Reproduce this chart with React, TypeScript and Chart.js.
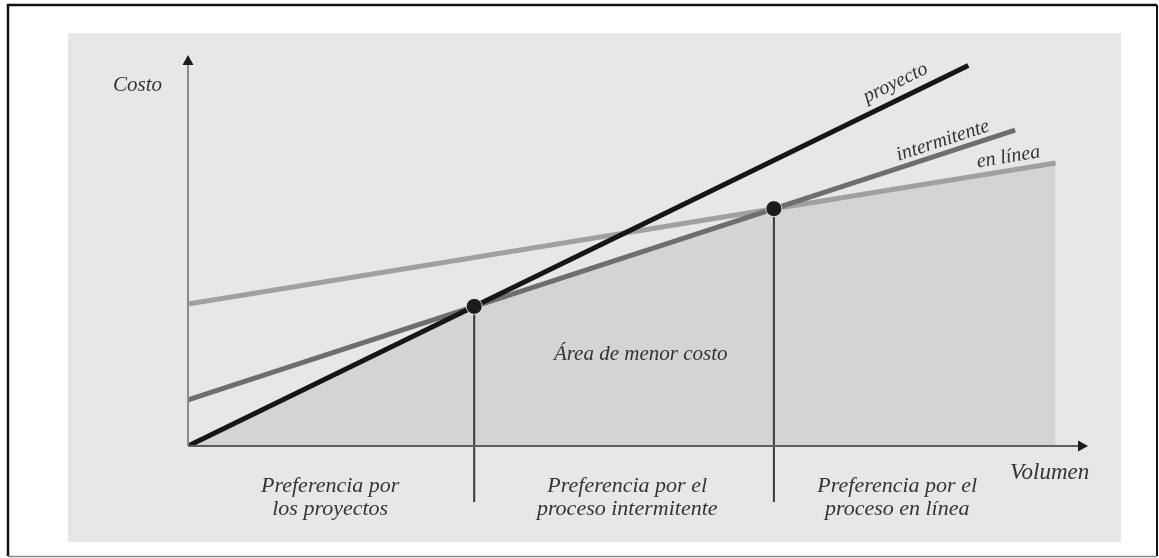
import { useEffect, useRef } from "react";
import { Chart, registerables } from "chart.js";

Chart.register(...registerables);

// Cost lines: [volume, cost] at each end
const proyectoVolumen = [0, 86.7];
const proyectoCosto = [0, 97.3];
const intermitenteVolumen = [0, 91.9];
const intermitenteCosto = [11.8, 80.8];
const enLineaVolumen = [0, 96.4];
const enLineaCosto = [36.3, 72.4];

// Break-even points where the cheapest process changes
const crucesVolumen = [31.8, 65.1];
const crucesCosto = [35.7, 60.7];

// Lower envelope = lowest cost area
const menorCostoVolumen = [0, 31.8, 65.1, 96.4];
const menorCostoCosto = [0, 35.7, 60.7, 72.4];

// Drop lines run below the volume axis into the label band
const caidaCosto = -14.3;

const etiquetasLineas = ["proyecto", "intermitente", "en línea"];
const etiquetasLineasVolumen = [79.4, 84.3, 91.4];
const etiquetasLineasSeparacion = [11, 7, 8];

const regiones = [
  ["Preferencia por", "los proyectos"],
  ["Preferencia por el", "proceso intermitente"],
  ["Preferencia por el", "proceso en línea"],
];
const regionesVolumen = [15.8, 48.8, 78.8];

const ejeX = "Volumen";
const ejeY = "Costo";
const areaTexto = "Área de menor costo";
const areaVolumen = 50.3;
const areaCosto = 22;

const W = 1159;
const H = 558;
const FONT = '"Liberation Serif", "DejaVu Serif", serif';
const TEXT = "#343434";

const pts = (xs: number[], ys: number[]) => xs.map((x, i) => ({ x, y: ys[i] }));

const decor = {
  id: "decor",
  beforeDraw(chart: any) {
    const ctx = chart.ctx as CanvasRenderingContext2D;
    ctx.save();
    ctx.fillStyle = "#ffffff";
    ctx.fillRect(0, 0, W, H);
    // panel
    ctx.fillStyle = "#e6e7e9";
    ctx.fillRect(68, 33, 1053, 509);
    // frame
    ctx.strokeStyle = "#111";
    ctx.lineWidth = 2.5;
    ctx.beginPath();
    ctx.moveTo(8, 556);
    ctx.lineTo(8, 5);
    ctx.lineTo(1157, 5);
    ctx.stroke();
    ctx.lineWidth = 2;
    ctx.beginPath();
    ctx.moveTo(1157, 5);
    ctx.lineTo(1157, 556);
    ctx.stroke();
    ctx.strokeStyle = "#8a8a8a";
    ctx.lineWidth = 1.5;
    ctx.beginPath();
    ctx.moveTo(8, 556.5);
    ctx.lineTo(1157, 556.5);
    ctx.stroke();
    ctx.restore();
  },
  afterDatasetsDraw(chart: any) {
    const ctx = chart.ctx as CanvasRenderingContext2D;
    const xs = chart.scales.x;
    const ys = chart.scales.y;
    const x0 = xs.getPixelForValue(0);
    const y0 = ys.getPixelForValue(0);
    const xEnd = xs.getPixelForValue(100);
    const yEnd = ys.getPixelForValue(100);
    ctx.save();

    // y axis
    ctx.strokeStyle = "#8c8c8c";
    ctx.lineWidth = 2;
    ctx.beginPath();
    ctx.moveTo(x0, y0);
    ctx.lineTo(x0, yEnd + 8);
    ctx.stroke();
    ctx.fillStyle = "#1a1a1a";
    ctx.beginPath();
    ctx.moveTo(x0, yEnd);
    ctx.lineTo(x0 - 5.5, yEnd + 10);
    ctx.lineTo(x0 + 5.5, yEnd + 10);
    ctx.closePath();
    ctx.fill();

    // x axis
    ctx.strokeStyle = "#5e5e5e";
    ctx.lineWidth = 2;
    ctx.beginPath();
    ctx.moveTo(x0, y0);
    ctx.lineTo(xEnd - 8, y0);
    ctx.stroke();
    ctx.beginPath();
    ctx.moveTo(xEnd, y0);
    ctx.lineTo(xEnd - 10, y0 - 5.5);
    ctx.lineTo(xEnd - 10, y0 + 5.5);
    ctx.closePath();
    ctx.fill();

    ctx.fillStyle = TEXT;
    ctx.textBaseline = "alphabetic";

    // axis titles
    ctx.font = `italic 21px ${FONT}`;
    ctx.textAlign = "left";
    ctx.fillText(ejeY, x0 - 75, yEnd + 36);
    ctx.font = `italic 23px ${FONT}`;
    ctx.fillText(ejeX, xEnd - 78, y0 + 33);

    // area label
    ctx.font = `italic 21px ${FONT}`;
    ctx.textAlign = "center";
    ctx.fillText(areaTexto, xs.getPixelForValue(areaVolumen), ys.getPixelForValue(areaCosto));

    // region labels
    ctx.font = `italic 22px ${FONT}`;
    regiones.forEach((lines, i) => {
      const cx = xs.getPixelForValue(regionesVolumen[i]);
      ctx.fillText(lines[0], cx, y0 + 46);
      ctx.fillText(lines[1], cx, y0 + 69);
    });

    // line labels, rotated along each line
    const lineas = [
      [proyectoVolumen, proyectoCosto],
      [intermitenteVolumen, intermitenteCosto],
      [enLineaVolumen, enLineaCosto],
    ];
    ctx.font = `italic 20px ${FONT}`;
    lineas.forEach(([vx, vy], i) => {
      const ax = xs.getPixelForValue(vx[0]);
      const ay = ys.getPixelForValue(vy[0]);
      const bx = xs.getPixelForValue(vx[1]);
      const by = ys.getPixelForValue(vy[1]);
      const ang = Math.atan2(by - ay, bx - ax);
      const v = etiquetasLineasVolumen[i];
      const t = (v - vx[0]) / (vx[1] - vx[0]);
      const cy = vy[0] + t * (vy[1] - vy[0]);
      const px = xs.getPixelForValue(v);
      const py = ys.getPixelForValue(cy);
      ctx.save();
      ctx.translate(px, py);
      ctx.rotate(ang);
      ctx.textAlign = "center";
      ctx.fillText(etiquetasLineas[i], 0, -etiquetasLineasSeparacion[i]);
      ctx.restore();
    });

    ctx.restore();
  },
};

export default function App() {
  const ref = useRef<HTMLCanvasElement | null>(null);

  useEffect(() => {
    if (!ref.current) return;
    const chart = new Chart(ref.current, {
      type: "line",
      data: {
        datasets: [
          {
            data: pts(crucesVolumen, crucesCosto),
            showLine: false,
            pointRadius: 8,
            pointBackgroundColor: "#1c1c1c",
            pointBorderColor: "rgba(250,250,250,0.8)",
            pointBorderWidth: 1,
            order: 1,
          },
          {
            data: [
              { x: crucesVolumen[0], y: crucesCosto[0] },
              { x: crucesVolumen[0], y: caidaCosto },
            ],
            borderColor: "#3a3a3a",
            borderWidth: 2,
            pointRadius: 0,
            clip: false,
            order: 2,
          },
          {
            data: [
              { x: crucesVolumen[1], y: crucesCosto[1] },
              { x: crucesVolumen[1], y: caidaCosto },
            ],
            borderColor: "#3a3a3a",
            borderWidth: 2,
            pointRadius: 0,
            clip: false,
            order: 2,
          },
          {
            data: pts(proyectoVolumen, proyectoCosto),
            borderColor: "#161616",
            borderWidth: 5,
            borderCapStyle: "butt",
            pointRadius: 0,
            order: 3,
          },
          {
            data: pts(intermitenteVolumen, intermitenteCosto),
            borderColor: "#6e6e6e",
            borderWidth: 5,
            borderCapStyle: "butt",
            pointRadius: 0,
            order: 4,
          },
          {
            data: pts(enLineaVolumen, enLineaCosto),
            borderColor: "#a0a0a0",
            borderWidth: 5,
            borderCapStyle: "butt",
            pointRadius: 0,
            order: 5,
          },
          {
            data: pts(menorCostoVolumen, menorCostoCosto),
            borderWidth: 0,
            borderColor: "rgba(0,0,0,0)",
            backgroundColor: "#d3d4d6",
            fill: "origin",
            pointRadius: 0,
            order: 10,
          },
        ],
      },
      options: {
        responsive: false,
        animation: false,
        layout: { padding: { left: 188, right: 71, top: 55, bottom: 112 } },
        scales: {
          x: { type: "linear", min: 0, max: 100, display: false },
          y: { type: "linear", min: 0, max: 100, display: false },
        },
        plugins: { legend: { display: false }, tooltip: { enabled: false } },
        events: [],
      },
      plugins: [decor],
    } as any);
    return () => chart.destroy();
  }, []);

  return (
    <div style={{ position: "fixed", left: 0, top: 0, width: W, height: H }}>
      <canvas ref={ref} width={W} height={H} style={{ display: "block", width: W, height: H }} />
    </div>
  );
}
